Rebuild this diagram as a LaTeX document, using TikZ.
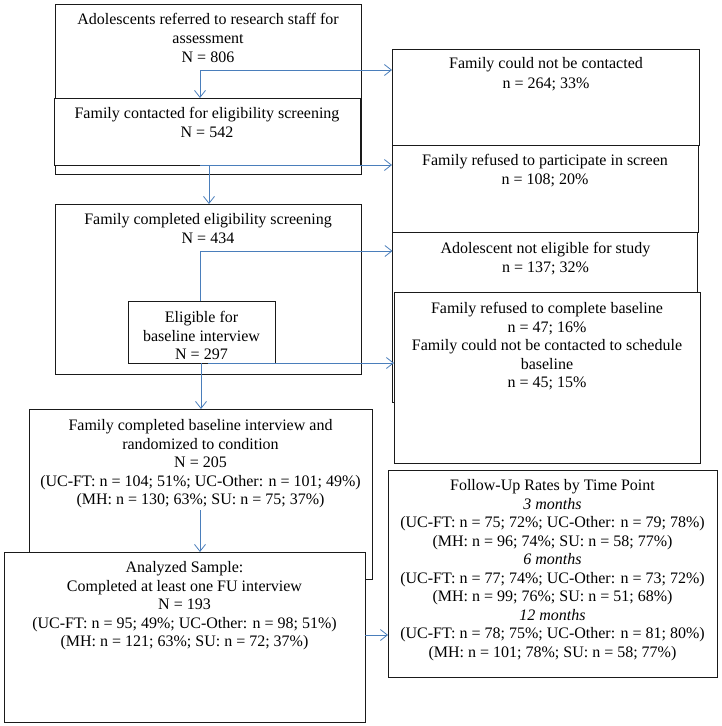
\documentclass[tikz,border=0pt]{standalone}
\usepackage{fontspec}
\setmainfont{Liberation Serif}
\usetikzlibrary{arrows.meta}
\definecolor{arrblue}{HTML}{4A7EBB}
\definecolor{edge}{HTML}{1A1A1A}
\tikzset{
  box/.style={draw=edge, line width=0.8pt, fill=white, rectangle, inner sep=0pt, outer sep=0pt, anchor=north west},
  txt/.style={align=center, inner sep=0pt, anchor=north, font=\fontsize{16}{18.5}\selectfont},
  arr/.style={draw=arrblue, line width=0.8pt, -{Straight Barb[length=7pt,width=11pt,line width=0.8pt]}},
  ln/.style={draw=arrblue, line width=0.8pt}
}
\begin{document}
\begin{tikzpicture}[x=1pt,y=-1pt]
\useasboundingbox (0,0) rectangle (721,726);
% left column boxes
\node[box, minimum width=306, minimum height=170] (b1) at (55,4) {};
\node[box, minimum width=306, minimum height=67] (b2) at (54,98) {};
\node[box, minimum width=306, minimum height=170] (b3) at (55,204) {};
\node[box, minimum width=147, minimum height=62] (b4) at (128,301) {};
\node[box, minimum width=343, minimum height=170] (b5) at (29,409) {};
\node[box, minimum width=361, minimum height=170] (b6) at (4,552) {};
% right column boxes
\node[box, minimum width=307, minimum height=96] (r1) at (392,49) {};
\node[box, minimum width=306, minimum height=87] (r2) at (392,145) {};
\node[box, minimum width=305, minimum height=170] (r3x) at (392.5,232) {};
\node[box, minimum width=306, minimum height=171] (r4) at (394,292) {};
\coordinate (r3) at (392.5,251);
\node[box, minimum width=329, minimum height=207] (fu) at (388,470) {};
% texts
\node[txt] (t1) at (208,13.4) {Adolescents referred to research staff for\\[0.5pt]assessment\\[0.5pt]N = 806};
\node[txt] (t2) at (207,107.4) {Family contacted for eligibility screening\\[0.5pt]N = 542};
\node[txt] (t3) at (208,213.4) {Family completed eligibility screening\\N = 434};
\node[txt] (t4) at (201.5,311.4) {Eligible for\\baseline interview\\N = 297};
\node[txt] (t5) at (200.5,419.4) {Family completed baseline interview and\\randomized to condition\\N = 205\\(UC-FT: n = 104; 51\%; UC-Other: n = 101; 49\%)\\(MH: n = 130; 63\%; SU: n = 75; 37\%)};
\node[txt] (t6) at (184.5,561.4) {Analyzed Sample:\\Completed at least one FU interview\\N = 193\\(UC-FT: n = 95; 49\%; UC-Other: n = 98; 51\%)\\(MH: n = 121; 63\%; SU: n = 72; 37\%)};
\node[txt] (tr1) at (546,57.4) {Family could not be contacted\\[1pt]n = 264; 33\%};
\node[txt] (tr2) at (545,154.4) {Family refused to participate in screen\\[0.5pt]n = 108; 20\%};
\node[txt] (tr3) at (545.5,242.4) {Adolescent not eligible for study\\n = 137; 32\%};
\node[txt] (tr4) at (547,302.4) {Family refused to complete baseline\\n = 47; 16\%\\Family could not be contacted to schedule\\baseline\\n = 45; 15\%};
\node[txt] (tfu) at (552.5,479.4) {Follow-Up Rates by Time Point\\\textit{3 months}\\(UC-FT: n = 75; 72\%; UC-Other: n = 79; 78\%)\\(MH: n = 96; 74\%; SU: n = 58; 77\%)\\\textit{6 months}\\(UC-FT: n = 77; 74\%; UC-Other: n = 73; 72\%)\\(MH: n = 99; 76\%; SU: n = 51; 68\%)\\\textit{12 months}\\(UC-FT: n = 78; 75\%; UC-Other: n = 81; 80\%)\\(MH: n = 101; 78\%; SU: n = 58; 77\%)};
% connectors
\coordinate (j1) at (200,70);
\draw[arr] (j1) -- (j1 -| r1.west);
\draw[arr] (j1) -- (j1 |- b2.north);
\coordinate (j2) at (200,165);
\coordinate (j2b) at (209,165);
\draw[arr] (j2) -- (j2 -| r2.west);
\draw[arr] (j2b) -- (j2b |- b3.north);
\coordinate (j3) at (200,251);
\draw[ln] (j3 |- b4.north) -- (j3);
\draw[arr] (j3) -- (r3);
\coordinate (j4) at (208,363);
\coordinate (j4b) at (201,363);
\draw[arr] (j4) -- (j4 -| r4.west);
\draw[arr] (j4b) -- (j4b |- b5.north);
\coordinate (j5) at (200,510);
\draw[arr] (j5) -- (j5 |- b6.north);
\coordinate (j6) at (365,635);
\draw[arr] (j6) -- (j6 -| fu.west);
\end{tikzpicture}
\end{document}
